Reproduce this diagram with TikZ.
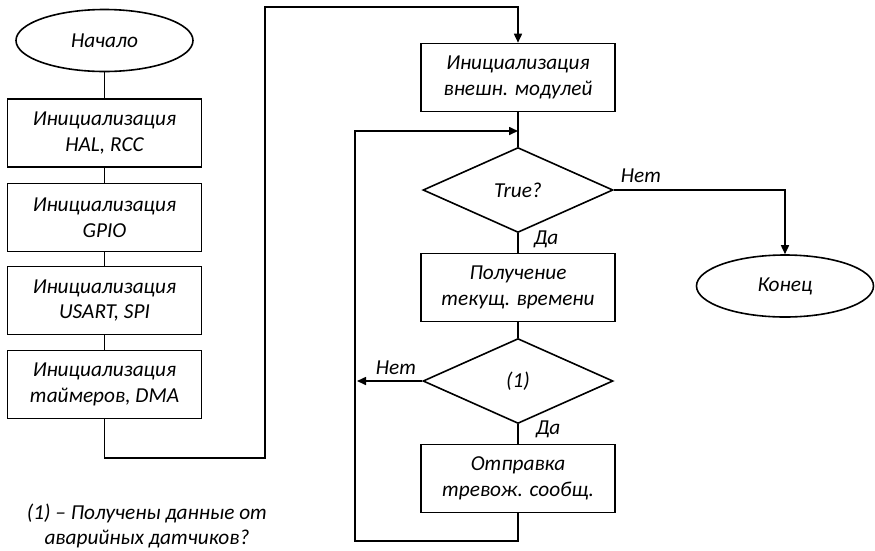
\documentclass[tikz,border=0pt]{standalone}
\usepackage{fontspec}
\setmainfont{Carlito}
\usetikzlibrary{shapes.geometric,arrows.meta}

\tikzset{
  lbl/.style={font=\itshape\fontsize{21.3}{25.5}\selectfont, align=center, inner sep=0pt},
  proc/.style={lbl, draw, rectangle, minimum width=194pt, minimum height=68pt},
  term/.style={lbl, draw, ellipse, minimum width=177pt, minimum height=62pt},
  cond/.style={lbl, draw, diamond, minimum width=190pt, minimum height=85pt},
  link/.style={line width=1.6pt},
  arr/.style={link, -{Triangle[length=9pt,width=8pt]}},
}

\begin{document}
\begin{tikzpicture}[x=1pt, y=-1pt, line width=1.6pt]
\useasboundingbox (0,0) rectangle (875,550);

% left column: start and hardware initialisation
\node[term] (start) at (104.5,40.5) {Начало};
\node[proc] (hal)   at (104.5,133)   {Инициализация\\HAL, RCC};
\node[proc] (gpio)  at (104.5,217.5) {Инициализация\\GPIO};
\node[proc] (usart) at (104.5,300.5) {Инициализация\\USART, SPI};
\node[proc] (tim)   at (104.5,384.5) {Инициализация\\таймеров, DMA};

% right column: main loop
\node[proc] (ext)   at (518,77.5)  {Инициализация\\внешн. модулей};
\node[cond] (true)  at (518,190)   {True?};
\node[proc] (time)  at (518,287.5) {Получение\\текущ. времени};
\node[cond] (data)  at (518,381)   {(1)};
\node[proc] (alarm) at (518,478.5) {Отправка\\тревож. сообщ.};
\node[term] (stop)  at (785,286) {Конец};

% footnote
\node[lbl] (note) at (147,526) {(1) – Получены данные от\\аварийных датчиков?};

% helper points for routed connectors
\coordinate (jA) at (265,458);
\coordinate (jB) at (518,7);
\coordinate (lA) at (355,541);
\coordinate (lB) at (518,131);
\coordinate (nA) at (357,381);

% connectors
\draw[link] (start) -- (hal);
\draw[link] (hal) -- (gpio);
\draw[link] (gpio) -- (usart);
\draw[link] (usart) -- (tim);
\draw[arr] (tim.south) |- (jA) |- (jB) -- (ext.north);
\draw[link] (ext) -- (true);
\draw[arr] (alarm.south) |- (lA) |- (lB);
\draw[arr] (true.east) -| (stop.north);
\draw[link] (true) -- (time);
\draw[link] (time) -- (data);
\draw[arr] (data.west) -- (nA);
\draw[link] (data) -- (alarm);

% branch labels
\node[lbl] (noA)  at (641,176) {Нет};
\node[lbl] (yesA) at (546,239) {Да};
\node[lbl] (noB)  at (396,368) {Нет};
\node[lbl] (yesB) at (548,429) {Да};
\end{tikzpicture}
\end{document}
